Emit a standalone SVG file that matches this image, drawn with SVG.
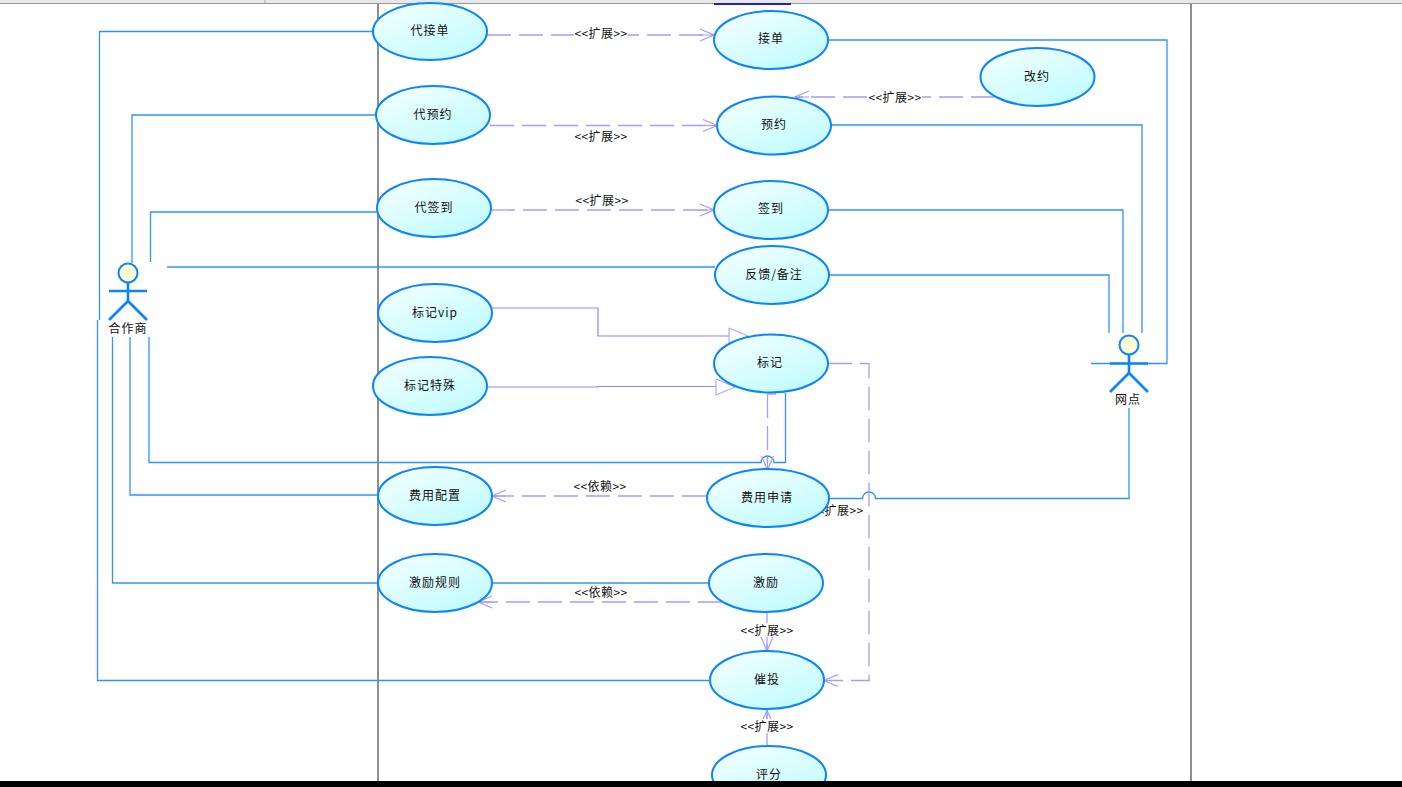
<svg xmlns="http://www.w3.org/2000/svg" width="1402" height="787" viewBox="0 0 1402 787">
<style>
text{font-family:"Noto Sans CJK SC","Noto Sans",sans-serif;font-size:12px;fill:#111;text-anchor:middle;letter-spacing:1px}
text.s{letter-spacing:0.4px}
.uc ellipse{fill:url(#ucfill);stroke:#0a84ff;stroke-width:2}
.assoc{fill:none;stroke:#2f93ff;stroke-width:1.3}
.dep{fill:none;stroke:#a29cff;stroke-width:1.3;stroke-dasharray:24 8}
.gen{fill:none;stroke:#8f88ff;stroke-width:1.2}
.tri{fill:#fff;stroke:#a29cff;stroke-width:1}
.lbl{fill:#fff;stroke:none}
.actor line{stroke:#0a84ff;stroke-width:2.6}
.actor circle{fill:#fdfbd2;stroke:#0a84ff;stroke-width:2}
.frame{stroke:#444;stroke-width:1.2}
</style>
<defs>
<linearGradient id="ucfill" x1="0.1" y1="0" x2="0.9" y2="1"><stop offset="0" stop-color="#f4ffff"/><stop offset="1" stop-color="#bdfbff"/></linearGradient>
<marker id="open" viewBox="0 0 16 14" refX="15" refY="7" markerWidth="16" markerHeight="14" orient="auto" markerUnits="userSpaceOnUse"><path d="M1 1L15 7L1 13M1 7H15" fill="none" stroke="#a29cff" stroke-width="1.2"/></marker>
</defs>
<rect width="1402" height="787" fill="#fff"/>
<g id="frame">
<rect x="0" y="0" width="1402" height="3" fill="#e8e8e8"/>
<line x1="0" y1="3.5" x2="1402" y2="3.5" stroke="#999" stroke-width="1"/>
<line x1="265" y1="0" x2="265" y2="3" stroke="#aaa"/>
<rect x="714" y="3" width="77" height="2" fill="#2222cc"/>
<line class="frame" x1="378" y1="4" x2="378" y2="781"/>
<line class="frame" x1="1191" y1="4" x2="1191" y2="781"/>
</g>
<g id="connectors">
<path class="assoc" d="M373 31.5H99.5V320M97.5 320V680.500H710"/>
<path class="assoc" d="M376 115H132V263"/>
<path class="assoc" d="M377 212H150.500V262"/>
<path class="assoc" d="M167 267H715"/>
<path class="assoc" d="M112.500 337V583H378"/>
<path class="assoc" d="M130 337V495H378"/>
<path class="assoc" d="M149 337V462.500H761A6.500 6.500 0 0 1 774 462.500H785.500V393"/>
<path class="assoc" d="M828 40H1167V363.500H1091"/>
<path class="assoc" d="M831 125H1142V333"/>
<path class="assoc" d="M828 210H1123V333"/>
<path class="assoc" d="M829 275H1109V333"/>
<path class="assoc" d="M829 498.500H862.500A6.500 6.500 0 0 1 875.500 498.500H1129V408"/>
<path class="assoc" d="M492 583H709"/>
<path class="gen" d="M492 308H598V336H730"/>
<path class="gen" d="M487 387H598V386.500H716"/>
<path class="tri" d="M729 328L748 336L729 344Z"/>
<path class="tri" d="M716 379L735 387L716 395Z"/>
<path class="dep" marker-end="url(#open)" d="M487 35H714"/>
<path class="dep" marker-end="url(#open)" d="M490 125.500H717"/>
<path class="dep" marker-end="url(#open)" d="M491 210H714"/>
<path class="dep" marker-end="url(#open)" d="M995 97H795"/>
<path class="dep" d="M776 394H767.500"/>
<path class="dep" marker-end="url(#open)" d="M767.500 394V470"/>
<path class="dep" marker-end="url(#open)" d="M828 363.500H869V680.500H824"/>
<path class="dep" marker-end="url(#open)" d="M706 496H492"/>
<path class="dep" marker-end="url(#open)" d="M722 602H478"/>
<path class="dep" marker-end="url(#open)" d="M767 612V651"/>
<path class="dep" style="stroke-dasharray:none" marker-end="url(#open)" d="M767 746V710"/>
<rect class="lbl" x="574" y="26" width="54" height="14"/><text class="s" x="601" y="38">&lt;&lt;扩展&gt;&gt;</text>
<rect class="lbl" x="574" y="129" width="54" height="14"/><text class="s" x="601" y="141">&lt;&lt;扩展&gt;&gt;</text>
<rect class="lbl" x="575" y="193" width="54" height="14"/><text class="s" x="602" y="205">&lt;&lt;扩展&gt;&gt;</text>
<rect class="lbl" x="868" y="90" width="54" height="14"/><text class="s" x="895" y="102">&lt;&lt;扩展&gt;&gt;</text>
<rect class="lbl" x="573" y="479" width="54" height="14"/><text class="s" x="600" y="491">&lt;&lt;依赖&gt;&gt;</text>
<rect class="lbl" x="574" y="585" width="54" height="14"/><text class="s" x="601" y="597">&lt;&lt;依赖&gt;&gt;</text>
<rect class="lbl" x="740" y="623" width="54" height="14"/><text class="s" x="767" y="635">&lt;&lt;扩展&gt;&gt;</text>
<rect class="lbl" x="740" y="719" width="54" height="14"/><text class="s" x="767" y="731">&lt;&lt;扩展&gt;&gt;</text>
<text class="s" x="837" y="515">&lt;&lt;扩展&gt;&gt;</text>
</g>
<g id="uc-daijiedan" class="uc"><ellipse cx="430" cy="31.500" rx="57" ry="28.500"/><text x="430" y="35">代接单</text></g>
<g id="uc-daiyuyue" class="uc"><ellipse cx="433" cy="115" rx="57" ry="29"/><text x="433" y="119">代预约</text></g>
<g id="uc-daiqiandao" class="uc"><ellipse cx="434" cy="208" rx="57" ry="29"/><text x="434" y="212">代签到</text></g>
<g id="uc-bjvip" class="uc"><ellipse cx="435" cy="313" rx="57" ry="29"/><text x="435" y="317">标记vip</text></g>
<g id="uc-bjts" class="uc"><ellipse cx="430" cy="386" rx="57" ry="29"/><text x="430" y="390">标记特殊</text></g>
<g id="uc-fypz" class="uc"><ellipse cx="435" cy="496" rx="57" ry="29"/><text x="435" y="500">费用配置</text></g>
<g id="uc-jlgz" class="uc"><ellipse cx="435" cy="583" rx="57" ry="29"/><text x="435" y="587">激励规则</text></g>
<g id="uc-jiedan" class="uc"><ellipse cx="771" cy="40" rx="57" ry="29"/><text x="771" y="43">接单</text></g>
<g id="uc-yuyue" class="uc"><ellipse cx="774" cy="125.500" rx="57" ry="29"/><text x="774" y="129">预约</text></g>
<g id="uc-gaiyue" class="uc"><ellipse cx="1037.500" cy="77" rx="57" ry="29"/><text x="1037" y="81">改约</text></g>
<g id="uc-qiandao" class="uc"><ellipse cx="771" cy="210" rx="57" ry="29"/><text x="771" y="213">签到</text></g>
<g id="uc-fankui" class="uc"><ellipse cx="772" cy="275" rx="57" ry="29"/><text x="774" y="279">反馈/备注</text></g>
<g id="uc-biaoji" class="uc"><ellipse cx="771" cy="363.500" rx="57" ry="29"/><text x="770" y="367">标记</text></g>
<g id="uc-fysq" class="uc"><ellipse cx="768" cy="498" rx="61" ry="29"/><text x="767" y="502">费用申请</text></g>
<g id="uc-jili" class="uc"><ellipse cx="766" cy="583" rx="57" ry="29"/><text x="766" y="587">激励</text></g>
<g id="uc-cuitou" class="uc"><ellipse cx="767" cy="680" rx="57" ry="29"/><text x="767" y="684">催投</text></g>
<g id="uc-pingfen" class="uc"><ellipse cx="769" cy="775" rx="57" ry="29"/><text x="769" y="779">评分</text></g>
<g id="actor-hezuoshang" class="actor"><line x1="128" y1="282" x2="128" y2="301"/><line x1="109" y1="291" x2="147" y2="291"/><line x1="128" y1="301" x2="109" y2="320"/><line x1="128" y1="301" x2="147" y2="320"/><circle cx="128" cy="273" r="9.500"/><text x="128" y="333">合作商</text></g>
<g id="actor-wangdian" class="actor"><line x1="1129" y1="354" x2="1129" y2="373"/><line x1="1110" y1="363.500" x2="1148" y2="363.500"/><line x1="1129" y1="373" x2="1110" y2="392"/><line x1="1129" y1="373" x2="1148" y2="392"/><circle cx="1129" cy="345" r="9.500"/><text x="1128" y="404">网点</text></g>
<rect x="0" y="781" width="1402" height="6" fill="#000"/>
</svg>
